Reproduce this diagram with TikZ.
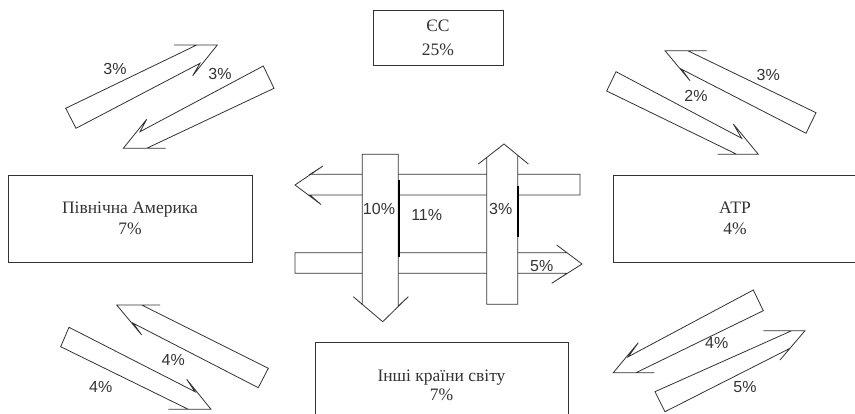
\documentclass[tikz,border=0pt]{standalone}
\usepackage{fontspec}
\setmainfont{Liberation Serif}
\newfontfamily\pctfont{Liberation Sans}
\usetikzlibrary{positioning}
\definecolor{ink}{gray}{0.2}

\begin{document}
\begin{tikzpicture}[x=1pt,y=-1pt,on grid,
    region/.style={draw=ink,line width=0.9pt,minimum width=244pt,minimum height=87pt,
      align=center,text=ink,font=\fontsize{17.5}{21}\selectfont},
    flow/.style={draw=ink,line width=0.8pt,fill=white},
    share/.style={text=ink,inner sep=0pt,font=\pctfont\fontsize{16}{16}\selectfont},
    shade/.style={draw=black,line width=2.2pt}]
   \useasboundingbox (0,0) rectangle (855,414);

   % regions
   \node[region] (na) at (130,218.5) {Північна Америка\\7\%};
   \node[region] (atr) [right=605pt of na] {АТР\\4\%};
   \node[region,minimum width=130pt,minimum height=55pt,
     font=\fontsize{17.5}{24}\selectfont] (eu) at (438,37.5) {ЄС\\25\%};
   \node[region,minimum width=253pt,
     font=\fontsize{17.5}{19.5}\selectfont] (rest) at (441.5,385.5) {Інші країни світу\\7\%};

   % flows Pivnichna Amerika <-> EU
   \draw[flow] (65.7,108.3) -- (196.7,45) -- (174,45) -- (217.3,45) -- (192.7,75.7)
     -- (200,63.3) -- (76,128.3) -- cycle;
   \draw[flow] (263.3,66) -- (140,131.7) -- (146.7,119.3) -- (123.3,148.3) -- (165.7,148.3)
     -- (146.7,148.3) -- (274,88.3) -- cycle;
   \node[share] (na2eu) at (115,69.3) {3\%};
   \node[share] (eu2na) at (220,74.3) {3\%};

   % flows ATR <-> EU
   \draw[flow] (816,112.7) -- (687.7,50.7) -- (706.7,50.7) -- (665,50.7) -- (690,80.7)
     -- (681.7,69.3) -- (806,133.3) -- cycle;
   \draw[flow] (616,71.7) -- (741.7,138.3) -- (733.3,124) -- (758.3,154.3) -- (717.7,154.3)
     -- (736.7,154.3) -- (606.7,91) -- cycle;
   \node[share] (atr2eu) at (768.3,75) {3\%};
   \node[share] (eu2atr) at (696,96) {2\%};

   % flows Pivnichna Amerika <-> inshi krainy
   \draw[flow] (268.3,368.3) -- (141.7,305) -- (160,305) -- (116.7,305) -- (141.7,335)
     -- (133.3,323.3) -- (258.3,387.7) -- cycle;
   \draw[flow] (69,327.3) -- (195,391.7) -- (186.7,379.3) -- (211,409.3) -- (168.3,409.3)
     -- (188.3,409.3) -- (60.7,346.7) -- cycle;
   \node[share] (rest2na) at (173.3,360) {4\%};
   \node[share] (na2rest) at (100.7,386.7) {4\%};

   % flows ATR <-> inshi krainy
   \draw[flow] (753.3,290) -- (628.3,356.7) -- (638.3,342.7) -- (613.3,372.7) -- (654.3,372.7)
     -- (636,372.7) -- (763.3,310.7) -- cycle;
   \draw[flow] (655,391.7) -- (791.7,330.7) -- (763.3,330.7) -- (805,330.7) -- (780,360)
     -- (790,348.3) -- (665,411.7) -- cycle;
   \node[share] (atr2rest) at (716.7,343.3) {4\%};
   \node[share] (rest2atr) at (745,387.3) {5\%};

   % central flows
   \draw[flow] (580,174.3) -- (310,174.3) -- (323,166) -- (295,185) -- (321,204.5)
     -- (310,195) -- (580,195) -- cycle;
   \draw[flow] (295,252.7) -- (567,252.7) -- (556.7,245) -- (582,264) -- (551.7,283.3)
     -- (567,273.3) -- (295,273.3) -- cycle;
   \draw[flow] (362.3,154.3) -- (398.3,154.3) -- (398.3,306) -- (408.3,296.7) -- (382.7,321.7)
     -- (353.3,296.7) -- (362.3,304.5) -- cycle;
   \draw[flow] (486.7,304.3) -- (517.7,304.3) -- (517.7,155.3) -- (528.3,164) -- (504,144)
     -- (478.3,164) -- (486.7,157.5) -- cycle;
   \draw[shade] (399,180) -- (399,257.3);
   \draw[shade] (518.3,185.7) -- (518.3,236.7);
   \node[share] (down) at (379,209.3) {10\%};
   \node[share] (mid) at (426.7,215) {11\%};
   \node[share] (up) at (500.7,209.3) {3\%};
   \node[share] (east) at (541.7,266) {5\%};
\end{tikzpicture}
\end{document}
